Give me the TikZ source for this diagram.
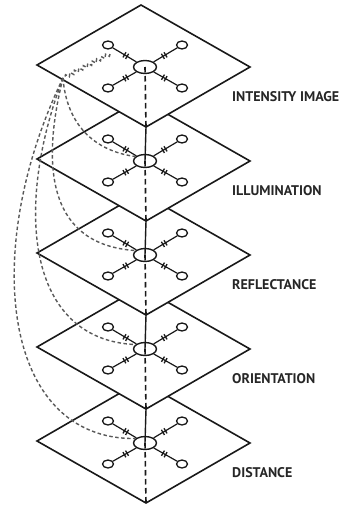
\documentclass[tikz,border=0pt]{standalone}
\usepackage{fontspec}
\setmainfont{PT Sans}
\usetikzlibrary{shapes.geometric,decorations.markings,decorations.pathmorphing}
\begin{document}
\begin{tikzpicture}[x=1pt,y=-1pt,
  plane/.style={draw=black!90,line width=1.6pt,fill=white,line join=miter},
  hub/.style={draw=black!90,ellipse,line width=1.4pt,minimum width=23pt,minimum height=13pt,inner sep=0pt},
  sat/.style={draw=black!90,ellipse,line width=1.3pt,minimum width=11pt,minimum height=8pt,inner sep=0pt},
  link/.style={draw=black!90,line width=1.2pt,postaction={decorate},
    decoration={markings,mark=at position 0.55 with {\draw[line width=1.3pt] (-1.5,-3)--(-1.5,3) (1.5,-3)--(1.5,3);}}},
  vsolid/.style={draw=black!90,line width=1.4pt},
  vdash/.style={draw=black!90,line width=1.6pt,dash pattern=on 5.5pt off 3.5pt},
  curve/.style={draw=black!65,line width=1.4pt,dash pattern=on 3.5pt off 2.5pt},
  lab/.style={font=\fontsize{14}{16}\selectfont\bfseries,text=black!85,anchor=west,inner sep=0pt}]
\useasboundingbox (0,0) rectangle (358,506);
% named points
\foreach \i/\cy in {1/66,2/160,3/254,4/348,5/442}{
  \coordinate (b\i) at (146,\cy+61);
}
% layers, bottom first
\foreach \i/\cy/\lab in {5/442/DISTANCE,4/348/ORIENTATION,3/254/REFLECTANCE,2/160/ILLUMINATION,1/66/INTENSITY IMAGE}{
  \draw[plane] (141,\cy-61) -- (250,\cy+1) -- (b\i) -- (37,\cy-1) -- cycle;
  \node[hub] (c\i) at (145,\cy+1) {};
  \node[sat] (ul\i) at (108,\cy-21) {};
  \node[sat] (ur\i) at (182,\cy-21) {};
  \node[sat] (ll\i) at (108,\cy+22) {};
  \node[sat] (lr\i) at (182,\cy+22) {};
  \draw[link] (ul\i) -- (c\i);
  \draw[link] (ur\i) -- (c\i);
  \draw[link] (ll\i) -- (c\i);
  \draw[link] (lr\i) -- (c\i);
  \draw[vdash] (c\i.center) -- (b\i);
  \ifnum\i>1
    \pgfmathtruncatemacro{\j}{\i-1}
    \draw[vsolid] (b\j) -- (c\i.center);
  \fi
  \node[lab] (t\i) at (232,\cy+31) {\lab};
}
% feedback curves from the top layer
\coordinate (w) at (63,78);
\coordinate (q) at (110,54);
\draw[curve,decorate,decoration={snake,amplitude=1.8pt,segment length=5pt}] (q) -- (w);
\draw[curve] (w) .. controls (66,118) and (88,150) .. (c2.155);
\draw[curve] (w) .. controls (40,170) and (50,245) .. (c3.155);
\draw[curve] (w) .. controls (13,210) and (28,340) .. (c4.155);
\draw[curve] (w) .. controls (-20,250) and (2,440) .. (c5.155);
\end{tikzpicture}
\end{document}
